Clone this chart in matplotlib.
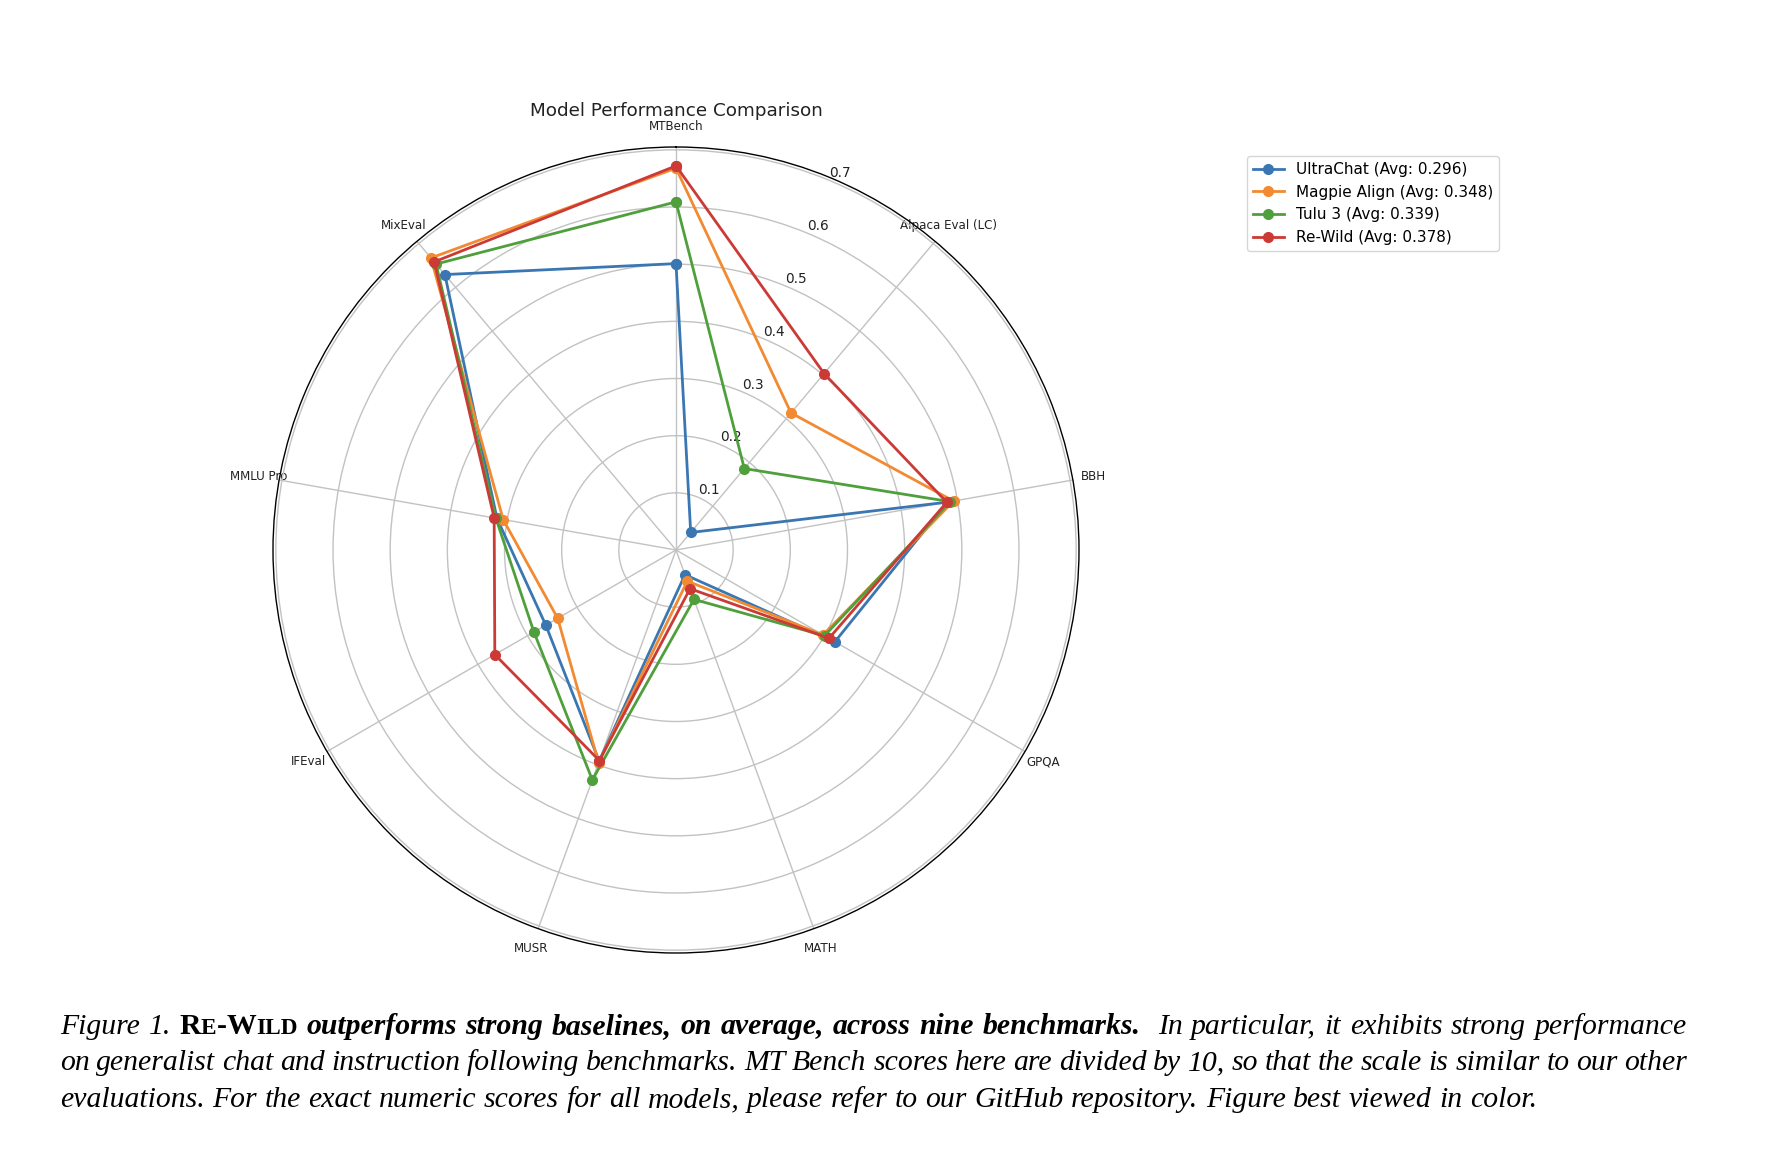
import matplotlib
matplotlib.use("Agg")
import matplotlib.pyplot as plt
import numpy as np

# ---------------- data ----------------
categories = ["MTBench", "Alpaca Eval (LC)", "BBH", "GPQA", "MATH",
              "MUSR", "IFEval", "MMLU Pro", "MixEval"]
models = ["UltraChat", "Magpie Align", "Tulu 3", "Re-Wild"]
avg_labels = ["0.296", "0.348", "0.339", "0.378"]
ultrachat = [0.501, 0.040, 0.482, 0.321, 0.046, 0.393, 0.263, 0.318, 0.629]
magpie    = [0.668, 0.313, 0.493, 0.297, 0.058, 0.396, 0.239, 0.307, 0.667]
tulu3     = [0.609, 0.186, 0.487, 0.300, 0.092, 0.428, 0.287, 0.320, 0.653]
rewild    = [0.672, 0.403, 0.481, 0.309, 0.072, 0.392, 0.366, 0.323, 0.658]
r_ticks = [0.1, 0.2, 0.3, 0.4, 0.5, 0.6, 0.7]
r_tick_labels = ["0.1", "0.2", "0.3", "0.4", "0.5", "0.6", "0.7"]
title = "Model Performance Comparison"

colors = ["#3a77b2", "#f28a32", "#4fa03c", "#cc3a35"]
series = [ultrachat, magpie, tulu3, rewild]

W, H = 1786, 1166
fig = plt.figure(figsize=(W / 100, H / 100), dpi=100)
fig.patch.set_facecolor("white")

cx, cy, R = 676, 550, 403
ax = fig.add_axes([(cx - R) / W, (H - cy - R) / H, 2 * R / W, 2 * R / H],
                  projection="polar")
ax.set_theta_offset(np.pi / 2)
ax.set_theta_direction(-1)

angles = np.linspace(0, 2 * np.pi, len(categories), endpoint=False)
for name, avg, vals, col in zip(models, avg_labels, series, colors):
    a = list(angles) + [angles[0]]
    v = list(vals) + [vals[0]]
    ax.plot(a, v, "o-", color=col, lw=2.0, ms=7,
            label=f"{name} (Avg: {avg})")

ax.set_xticks(angles)
ax.set_xticklabels(categories, fontsize=8.6, color="#222222")
ax.tick_params(axis="x", pad=4.5)
ax.set_ylim(0, 0.705)
ax.set_yticks(r_ticks)
ax.set_yticklabels(r_tick_labels, fontsize=9.8, color="#222222")
ax.grid(True, color="#c2c2c2", lw=1.0)
ax.spines["polar"].set_color("black")
ax.spines["polar"].set_linewidth(1.0)

fig.text(cx / W, 1 - 111 / H, title, ha="center", va="center",
         fontsize=13.2, color="#222222")

fig.legend(loc="upper left", bbox_to_anchor=(1247 / W, 1 - 156 / H),
           borderaxespad=0, fontsize=11, frameon=True)

# ---------------- caption ----------------
SERIF = "Liberation Serif"
IT = ("normal", "italic")
BI = ("bold", "italic")

cap_lines = [
    [("Figure 1.", IT), ("RE-WILD", "SC"),
     ("outperforms strong baselines, on average, across nine benchmarks.", BI),
     ("||In particular, it exhibits strong performance", IT)],
    [("on generalist chat and instruction following benchmarks. MT Bench scores here are divided by 10, so that the scale is similar to our other", IT)],
    [("evaluations. For the exact numeric scores for all models, please refer to our GitHub repository. Figure best viewed in color.", IT)],
]
justify = [True, True, False]
baselines = [1034, 1070.5, 1107]
x_left, x_right = 60, 1687

fig.canvas.draw()
rend = fig.canvas.get_renderer()


def measure(txt, size, weight, style):
    t = fig.text(0, 0, txt, fontsize=size, fontweight=weight,
                 fontstyle=style, family=SERIF)
    w = t.get_window_extent(renderer=rend).width
    t.remove()
    return w


def build_words(line, size):
    words = []  # (pieces, gapweight_before)
    for seg, sty in line:
        if sty == "SC":
            pieces = [("R", size, "bold", "normal"), ("E", size * 0.78, "bold", "normal"),
                      ("-", size, "bold", "normal"), ("W", size, "bold", "normal"),
                      ("ILD", size * 0.78, "bold", "normal")]
            words.append((pieces, 1))
            continue
        extra = 0
        if seg.startswith("||"):
            seg = seg[2:]
            extra = 1
        for i, wd in enumerate(seg.split(" ")):
            words.append(([(wd, size, sty[0], sty[1])], 1 + (extra if i == 0 else 0)))
    return words


def space_width(size):
    return measure("x x", size, "normal", "italic") - measure("xx", size, "normal", "italic")


def natural_width(line, size):
    words = build_words(line, size)
    sp = space_width(size)
    tot = 0
    for k, (pieces, gw) in enumerate(words):
        tot += sum(measure(p[0], p[1], p[2], p[3]) for p in pieces)
        if k > 0:
            tot += sp * gw
    return tot


base = 20.0
size = base * (1537 - x_left) / natural_width(cap_lines[2], base)

for line, just, yb in zip(cap_lines, justify, baselines):
    words = build_words(line, size)
    wlist = [[measure(p[0], p[1], p[2], p[3]) for p in pieces] for pieces, _ in words]
    total = sum(sum(w) for w in wlist)
    gw_sum = sum(gw for k, (_, gw) in enumerate(words) if k > 0)
    if just:
        gap = (x_right - x_left - total) / gw_sum
    else:
        gap = space_width(size)
    x = x_left
    for k, ((pieces, gw), ws) in enumerate(zip(words, wlist)):
        if k > 0:
            x += gap * gw
        for (txt, s, wt, st), w in zip(pieces, ws):
            fig.text(x / W, 1 - yb / H, txt, fontsize=s, fontweight=wt,
                     fontstyle=st, family=SERIF, ha="left", va="baseline",
                     color="black")
            x += w

fig.savefig("out.png", dpi=100, facecolor="white")
